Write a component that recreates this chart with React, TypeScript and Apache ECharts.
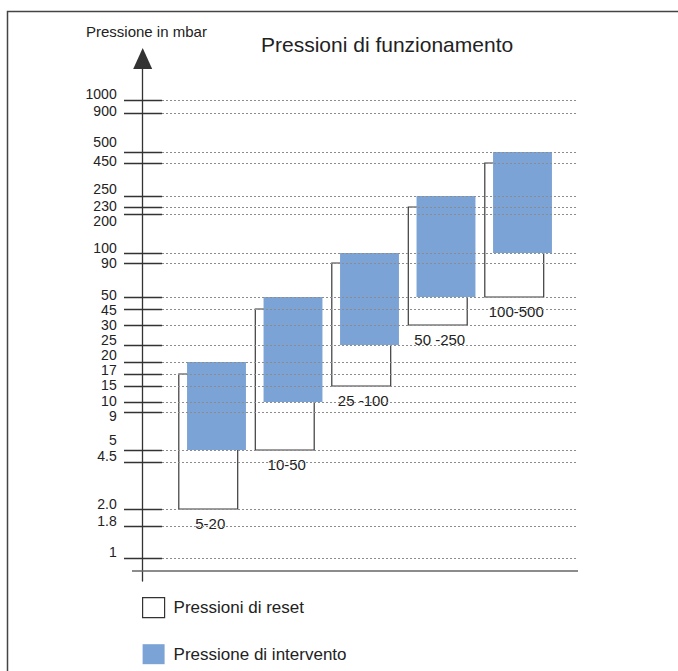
import React, { useEffect, useRef } from 'react';
import * as echarts from 'echarts';

// ---- data ----
const CATEGORIES = ['5-20', '10-50', '25 -100', '50 -250', '100-500'];
const RESET_MIN = [2, 5, 15, 30, 50];
const RESET_MAX = [17, 45, 90, 230, 450];
const TRIP_MIN = [5, 10, 25, 50, 100];
const TRIP_MAX = [20, 50, 100, 250, 500];

const TICK_VALUES = [1, 1.8, 2, 4.5, 5, 9, 10, 15, 17, 20, 25, 30, 45, 50, 90, 100, 200, 230, 250, 450, 500, 900, 1000];
const TICK_LABELS = ['1', '1.8', '2.0', '4.5', '5', '9', '10', '15', '17', '20', '25', '30', '45', '50', '90', '100', '200', '230', '250', '450', '500', '900', '1000'];

// schematic (non-proportional) pressure scale: axis position of each tick value
const TICK_LEVELS = [13, 45, 62, 109, 121, 159, 169, 185, 197, 209, 226, 246, 262, 274, 308, 318, 357, 364, 375, 408, 419, 458, 471];
// axis position where each tick label is written (spread apart to stay legible)
const LABEL_LEVELS = [19, 50, 67, 115, 131, 155.5, 170.5, 186, 201, 216, 231, 246, 261, 276.5, 308, 323, 350, 365, 382, 410, 429, 460, 477];

const SERIES_RESET = 'Pressioni di reset';
const SERIES_TRIP = 'Pressione di intervento';

const FONT = "'Liberation Sans', Arial, Helvetica, sans-serif";
const BLUE = '#7ca3d5';

const level = (v: number) => TICK_LEVELS[TICK_VALUES.indexOf(v)];

function boxRenderer(shift: number, fill: string, stroke: string | null, withLabel: boolean) {
  return (params: any, api: any) => {
    const i = api.value(0);
    const lo = api.coord([i, api.value(1)]);
    const hi = api.coord([i, api.value(2)]);
    const band = api.size([1, 0])[0];
    const w = band * 0.77;
    const cx = lo[0] + shift;
    const children: any[] = [
      {
        type: 'rect',
        shape: { x: cx - w / 2, y: hi[1], width: w, height: lo[1] - hi[1] },
        style: stroke ? { fill, stroke, lineWidth: 1.2 } : { fill },
      },
    ];
    if (withLabel) {
      children.push({
        type: 'text',
        x: cx + 2,
        y: lo[1] + 14,
        style: {
          text: CATEGORIES[i],
          fill: '#222',
          fontSize: 15,
          fontFamily: FONT,
          align: 'center',
          verticalAlign: 'middle',
          textAlign: 'center',
          textVerticalAlign: 'middle',
        },
      });
    }
    return { type: 'group', children };
  };
}

export default function App() {
  const ref = useRef<HTMLDivElement>(null);

  useEffect(() => {
    if (!ref.current) return;
    const chart = echarts.init(ref.current, undefined, { renderer: 'svg' });

    const resetData = CATEGORIES.map((_, i) => [i, level(RESET_MIN[i]), level(RESET_MAX[i])]);
    const tripData = CATEGORIES.map((_, i) => [i, level(TRIP_MIN[i]), level(TRIP_MAX[i])]);
    const gridData = TICK_LEVELS.map((l) => [0, l]);

    chart.setOption({
      animation: false,
      backgroundColor: '#ffffff',
      title: [
        {
          text: 'Pressioni di funzionamento',
          left: 256,
          top: 29,
          textStyle: { fontSize: 21, fontWeight: 'normal', color: '#222', fontFamily: FONT },
        },
        {
          text: 'Pressione in mbar',
          left: 81,
          top: 19,
          textStyle: { fontSize: 15, fontWeight: 'normal', color: '#222', fontFamily: FONT },
        },
      ],
      legend: {
        orient: 'vertical',
        left: 137,
        top: 592,
        itemWidth: 22,
        itemHeight: 20,
        itemGap: 26,
        selectedMode: false,
        textStyle: { fontSize: 17, color: '#222', fontFamily: FONT, padding: [0, 0, 0, 4] },
        data: [
          { name: SERIES_RESET, icon: 'rect', itemStyle: { color: '#ffffff', borderColor: '#333', borderWidth: 1.2 } },
          { name: SERIES_TRIP, icon: 'rect', itemStyle: { color: BLUE, borderWidth: 0 } },
        ],
      },
      grid: {
        left: 174,
        width: 382.5,
        top: 58.5,
        bottom: 90,
        containLabel: false,
        outerBoundsMode: 'none',
      },
      xAxis: {
        type: 'category',
        data: CATEGORIES,
        show: false,
      },
      yAxis: {
        type: 'value',
        min: -10,
        max: 512.5,
        offset: 31.3,
        splitLine: { show: false },
        axisTick: { show: false },
        axisLine: {
          show: true,
          onZero: false,
          symbol: ['none', 'triangle'],
          symbolSize: [19, 21],
          lineStyle: { color: '#333', width: 1.3 },
        },
        axisLabel: {
          customValues: LABEL_LEVELS,
          formatter: (v: number) => {
            const idx = LABEL_LEVELS.findIndex((l) => Math.abs(l - v) < 0.01);
            return idx >= 0 ? TICK_LABELS[idx] : '';
          },
          margin: 26,
          fontSize: 14,
          lineHeight: 11,
          color: '#222',
          fontFamily: FONT,
        },
      },
      graphic: [
        {
          type: 'polyline',
          shape: { points: [[7.5, 671], [7.5, 11.5], [678, 11.5]] },
          style: { stroke: '#444', lineWidth: 1.5, fill: 'none' },
          z: 1,
        },
        {
          type: 'line',
          shape: { x1: 132, y1: 571, x2: 578, y2: 571 },
          style: { stroke: '#666', lineWidth: 1.3 },
          z: 1,
        },
      ],
      series: [
        {
          name: SERIES_RESET,
          type: 'custom',
          z: 2,
          data: resetData,
          encode: { x: 0, y: [1, 2] },
          renderItem: boxRenderer(-4, 'none', '#3a3a3a', true),
        },
        {
          name: SERIES_TRIP,
          type: 'custom',
          z: 3,
          data: tripData,
          encode: { x: 0, y: [1, 2] },
          renderItem: boxRenderer(4.25, BLUE, null, false),
        },
        {
          name: 'griglia',
          type: 'custom',
          z: 4,
          silent: true,
          data: gridData,
          encode: { x: 0, y: 1 },
          renderItem: (params: any, api: any) => {
            const y = Math.round(api.coord([0, api.value(1)])[1]) + 0.5;
            return {
              type: 'group',
              children: [
                { type: 'line', shape: { x1: 124, y1: y, x2: 162, y2: y }, style: { stroke: '#333', lineWidth: 1.3 } },
                {
                  type: 'line',
                  shape: { x1: 162, y1: y, x2: 578, y2: y },
                  style: { stroke: '#8c8c8c', lineWidth: 1, lineDash: [2, 2] },
                },
              ],
            };
          },
        },
      ],
    });

    return () => chart.dispose();
  }, []);

  return (
    <div
      ref={ref}
      style={{ position: 'fixed', left: 0, top: 0, width: 678, height: 671 }}
    />
  );
}
